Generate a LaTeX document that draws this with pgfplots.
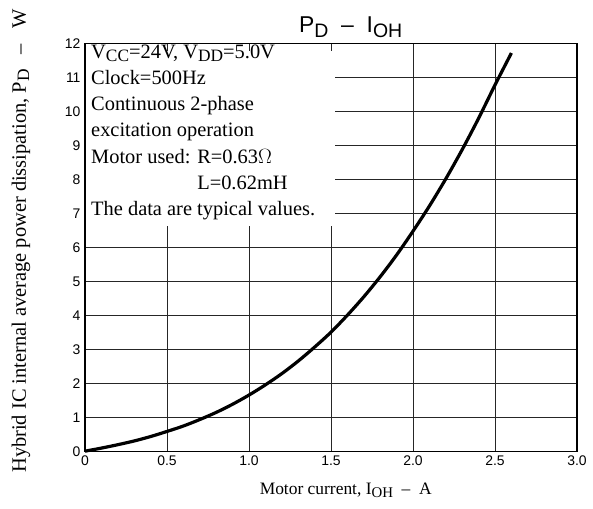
\documentclass[border=0pt]{standalone}
\usepackage{graphicx}
\usepackage{fontspec}
\setmainfont{Liberation Serif}
\newfontfamily\arial{Liberation Sans}
\usepackage{pgfplots}
\pgfplotsset{compat=1.18}
\newcommand\sub[1]{\raisebox{-0.35ex}{\scalebox{0.85}{#1}}}
\begin{document}
\begin{tikzpicture}
\begin{axis}[
  name=ax,
  scale only axis, clip=false,
  width=492bp, height=408bp,
  xmin=0, xmax=3, ymin=0, ymax=12,
  xtick={0,0.5,1,1.5,2,2.5,3},
  xticklabels={0,0.5,1.0,1.5,2.0,2.5,3.0},
  ytick={0,1,...,12},
  /pgf/number format/assume math mode=true,
  tick label style={font=\arial\fontsize{14}{14}\selectfont},
  yticklabel style={xshift=-1bp},
  xticklabel style={yshift=-1bp},
  major tick length=0pt,
  grid=major,
  grid style={black!85, line width=0.8bp},
  axis line style={black, line width=1.2bp},
  xlabel={Motor current, I\sub{OH} \ – \ A},
  ylabel={Hybrid IC internal average power dissipation, P\sub{D} \ \ – \ \ W},
  xlabel style={font=\fontsize{17.5}{17.5}\selectfont, at={(rel axis cs:0.53,0)}, anchor=north, yshift=-28bp},
  ylabel style={font=\fontsize{20.5}{20.5}\selectfont, at={(rel axis cs:0,0.516)}, anchor=center, yshift=64bp},
]
\fill[white] ([xshift=0.8bp,yshift=-6.4bp]axis cs:0,11.97) rectangle ([yshift=0bp]axis cs:1.525,6.62);
\node[anchor=north west, align=left, inner sep=0pt, font=\fontsize{20.5}{26.3}\selectfont] at ([xshift=6bp,yshift=-1bp]axis cs:0,12)
 {V\sub{CC}=24V, V\sub{DD}=5.0V\\
  Clock=500Hz\\
  Continuous 2-phase\\
  excitation operation\\
  Motor used: R=0.63$\Omega$\\
  \phantom{Motor used: }L=0.62mH\\
  The data are typical values.};
\addplot[black, line width=3.2bp, smooth, tension=0.5] coordinates {
(0,0.01) (0.1,0.10) (0.2,0.20) (0.3,0.31) (0.4,0.44) (0.5,0.59) (0.6,0.75)
(0.7,0.94) (0.8,1.15) (0.9,1.39) (1.0,1.66) (1.1,1.96) (1.2,2.29) (1.3,2.66)
(1.4,3.07) (1.5,3.51) (1.6,4.01) (1.7,4.55) (1.8,5.14) (1.9,5.78) (2.0,6.48)
(2.1,7.22) (2.2,8.02) (2.3,8.88) (2.4,9.80) (2.5,10.78) (2.6,11.72)
};
\node[anchor=south, font=\arial\fontsize{23}{23}\selectfont, inner sep=0pt] at ([yshift=6bp]rel axis cs:0.54,1) {P\sub{D} \ – \ I\sub{OH}};
\end{axis}
\path[use as bounding box] ([xshift=-85bp,yshift=-57bp]ax.south west) rectangle ([xshift=16bp,yshift=43.5bp]ax.north east);
\end{tikzpicture}
\end{document}
